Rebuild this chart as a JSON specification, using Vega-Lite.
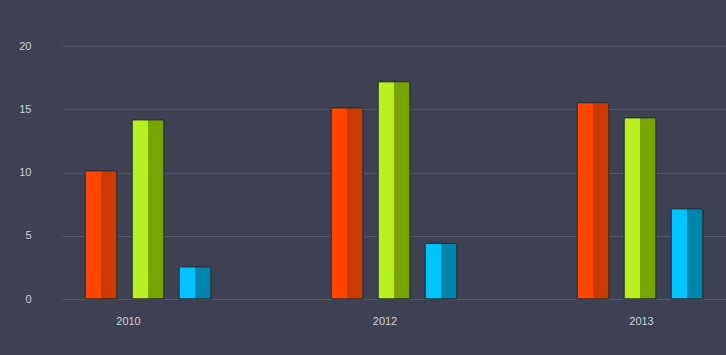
{
  "$schema": "https://vega.github.io/schema/vega-lite/v6.json",
  "width": 664,
  "height": 253,
  "autosize": "none",
  "padding": {"left": 62, "top": 46, "right": 0, "bottom": 56},
  "background": "#3d4152",
  "config": {
    "view": {"stroke": null},
    "axis": {
      "labelFont": "Liberation Sans",
      "labelFontSize": 11,
      "labelColor": "#cdd1dc",
      "domain": false,
      "ticks": false,
      "tickSize": 0,
      "title": null
    }
  },
  "data": {
    "values": [
      {"year": 2010, "series": "Series 1", "value": 10.14},
      {"year": 2010, "series": "Series 2", "value": 14.17},
      {"year": 2010, "series": "Series 3", "value": 2.55},
      {"year": 2012, "series": "Series 1", "value": 15.12},
      {"year": 2012, "series": "Series 2", "value": 17.18},
      {"year": 2012, "series": "Series 3", "value": 4.4},
      {"year": 2013, "series": "Series 1", "value": 15.52},
      {"year": 2013, "series": "Series 2", "value": 14.33},
      {"year": 2013, "series": "Series 3", "value": 7.14}
    ]
  },
  "layer": [
    {
      "encoding": {
        "x": {
          "field": "year",
          "type": "ordinal",
          "scale": {"paddingInner": 0.488, "paddingOuter": 0.0935},
          "axis": null
        },
        "xOffset": {
          "field": "series",
          "type": "nominal",
          "scale": {"domain": ["Series 1", "Series 2", "Series 3"], "paddingInner": 0.319, "paddingOuter": 0}
        },
        "y": {
          "field": "value",
          "type": "quantitative",
          "scale": {"domain": [0, 20], "nice": false},
          "axis": {
            "values": [0, 5, 10, 15, 20],
            "grid": true,
            "gridColor": "#535766",
            "gridWidth": 1,
            "labelPadding": 31
          }
        }
      },
      "layer": [
        {
          "transform": [{"filter": "datum.series === 'Series 1'"}],
          "mark": {
            "type": "bar",
            "cornerRadiusTopLeft": 2,
            "cornerRadiusTopRight": 2,
            "stroke": "#2b2e38",
            "strokeWidth": 1,
            "fill": {
              "gradient": "linear", "x1": 0, "x2": 1, "y1": 0, "y2": 0,
              "stops": [
                {"offset": 0, "color": "#ff4500"},
                {"offset": 0.5, "color": "#ff4500"},
                {"offset": 0.5, "color": "#cc3a00"},
                {"offset": 1, "color": "#cc3a00"}
              ]
            }
          },
          "encoding": {}
        },
        {
          "transform": [{"filter": "datum.series === 'Series 2'"}],
          "mark": {
            "type": "bar",
            "cornerRadiusTopLeft": 2,
            "cornerRadiusTopRight": 2,
            "stroke": "#2b2e38",
            "strokeWidth": 1,
            "fill": {
              "gradient": "linear", "x1": 0, "x2": 1, "y1": 0, "y2": 0,
              "stops": [
                {"offset": 0, "color": "#b8f020"},
                {"offset": 0.5, "color": "#b8f020"},
                {"offset": 0.5, "color": "#7aa500"},
                {"offset": 1, "color": "#7aa500"}
              ]
            }
          },
          "encoding": {}
        },
        {
          "transform": [{"filter": "datum.series === 'Series 3'"}],
          "mark": {
            "type": "bar",
            "cornerRadiusTopLeft": 2,
            "cornerRadiusTopRight": 2,
            "stroke": "#2b2e38",
            "strokeWidth": 1,
            "fill": {
              "gradient": "linear", "x1": 0, "x2": 1, "y1": 0, "y2": 0,
              "stops": [
                {"offset": 0, "color": "#00c4ff"},
                {"offset": 0.5, "color": "#00c4ff"},
                {"offset": 0.5, "color": "#0085ad"},
                {"offset": 1, "color": "#0085ad"}
              ]
            }
          },
          "encoding": {}
        }
      ]
    },
    {
      "mark": {"type": "point", "opacity": 0},
      "encoding": {
        "x": {
          "field": "year",
          "type": "ordinal",
          "scale": {"type": "point", "range": [66, 579], "padding": 0},
          "axis": {"orient": "bottom", "labelPadding": 16, "labelAngle": 0, "grid": false}
        }
      }
    }
  ],
  "resolve": {"scale": {"x": "independent"}, "axis": {"x": "independent"}}
}
